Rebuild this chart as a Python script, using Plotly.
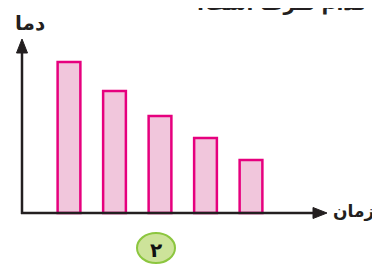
import plotly.graph_objects as go

categories = ["1", "2", "3", "4", "5"]
temperature = [7.55, 6.1, 4.85, 3.75, 2.65]
x_label = "زمان"
y_label = "دما"
question = "به کدام طرف است؟"
badge = "۲"

# page body has an 8px default margin; figure covers the rest of the window
OFF = 8
W, H = 380 - OFF, 271 - OFF
def px(x):
    return (x - OFF) / W
def py(y):
    return 1 - (y - OFF) / H

AX = "#231f20"
fig = go.Figure()
fig.add_trace(go.Bar(
    x=list(range(len(categories))), y=temperature,
    width=0.5,
    marker=dict(color="#f1c6dc", line=dict(color="#e6007e", width=2.5)),
    hoverinfo="skip",
))

shapes = [
    dict(type="line", xref="paper", yref="paper", x0=px(22), x1=px(22), y0=py(214), y1=py(50),
         line=dict(color=AX, width=2.5)),
    dict(type="path", xref="paper", yref="paper",
         path=f"M {px(16.5)} {py(53)} L {px(22)} {py(39)} L {px(27.5)} {py(53)} Z",
         fillcolor=AX, line=dict(color=AX, width=1)),
    dict(type="line", xref="paper", yref="paper", x0=px(21), x1=px(316), y0=py(213), y1=py(213),
         line=dict(color=AX, width=2.5)),
    dict(type="path", xref="paper", yref="paper",
         path=f"M {px(313)} {py(207.5)} L {px(327)} {py(213)} L {px(313)} {py(218.5)} Z",
         fillcolor=AX, line=dict(color=AX, width=1)),
    dict(type="circle", xref="paper", yref="paper", x0=px(137), x1=px(175), y0=py(263), y1=py(233),
         fillcolor="#cde39a", line=dict(color="#8cc63f", width=2)),
]

annotations = [
    dict(text=f"<b>{y_label}</b>", x=px(13), y=py(9), xref="paper", yref="paper",
         showarrow=False, font=dict(family="DejaVu Sans", size=20, color=AX)),
    dict(text=f"<b>{x_label}</b>", x=px(376), y=py(223), xref="paper", yref="paper",
         showarrow=False, font=dict(family="DejaVu Sans", size=17, color=AX)),
    dict(text=f"<b>{badge}</b>", x=px(156), y=py(264), xref="paper", yref="paper",
         showarrow=False, font=dict(family="DejaVu Sans", size=20, color="#111111")),
    dict(text=f"<b>{question}</b>", x=px(395), y=py(3), xref="paper", yref="paper",
         xanchor="right", yanchor="middle",
         showarrow=False, font=dict(family="DejaVu Sans", size=20, color=AX)),
]

x0_pix, step = 69.0, 45.5
base_pix, unit = 213.0, 20.0
fig.update_layout(
    width=W, height=H,
    margin=dict(l=0, r=0, t=0, b=0),
    paper_bgcolor="white", plot_bgcolor="white",
    showlegend=False,
    xaxis=dict(range=[(OFF - x0_pix) / step, (380 - x0_pix) / step], visible=False, fixedrange=True),
    yaxis=dict(range=[-(271 - base_pix) / unit, (base_pix - OFF) / unit], visible=False, fixedrange=True),
    shapes=shapes, annotations=annotations,
)
fig.write_html("out.html")
